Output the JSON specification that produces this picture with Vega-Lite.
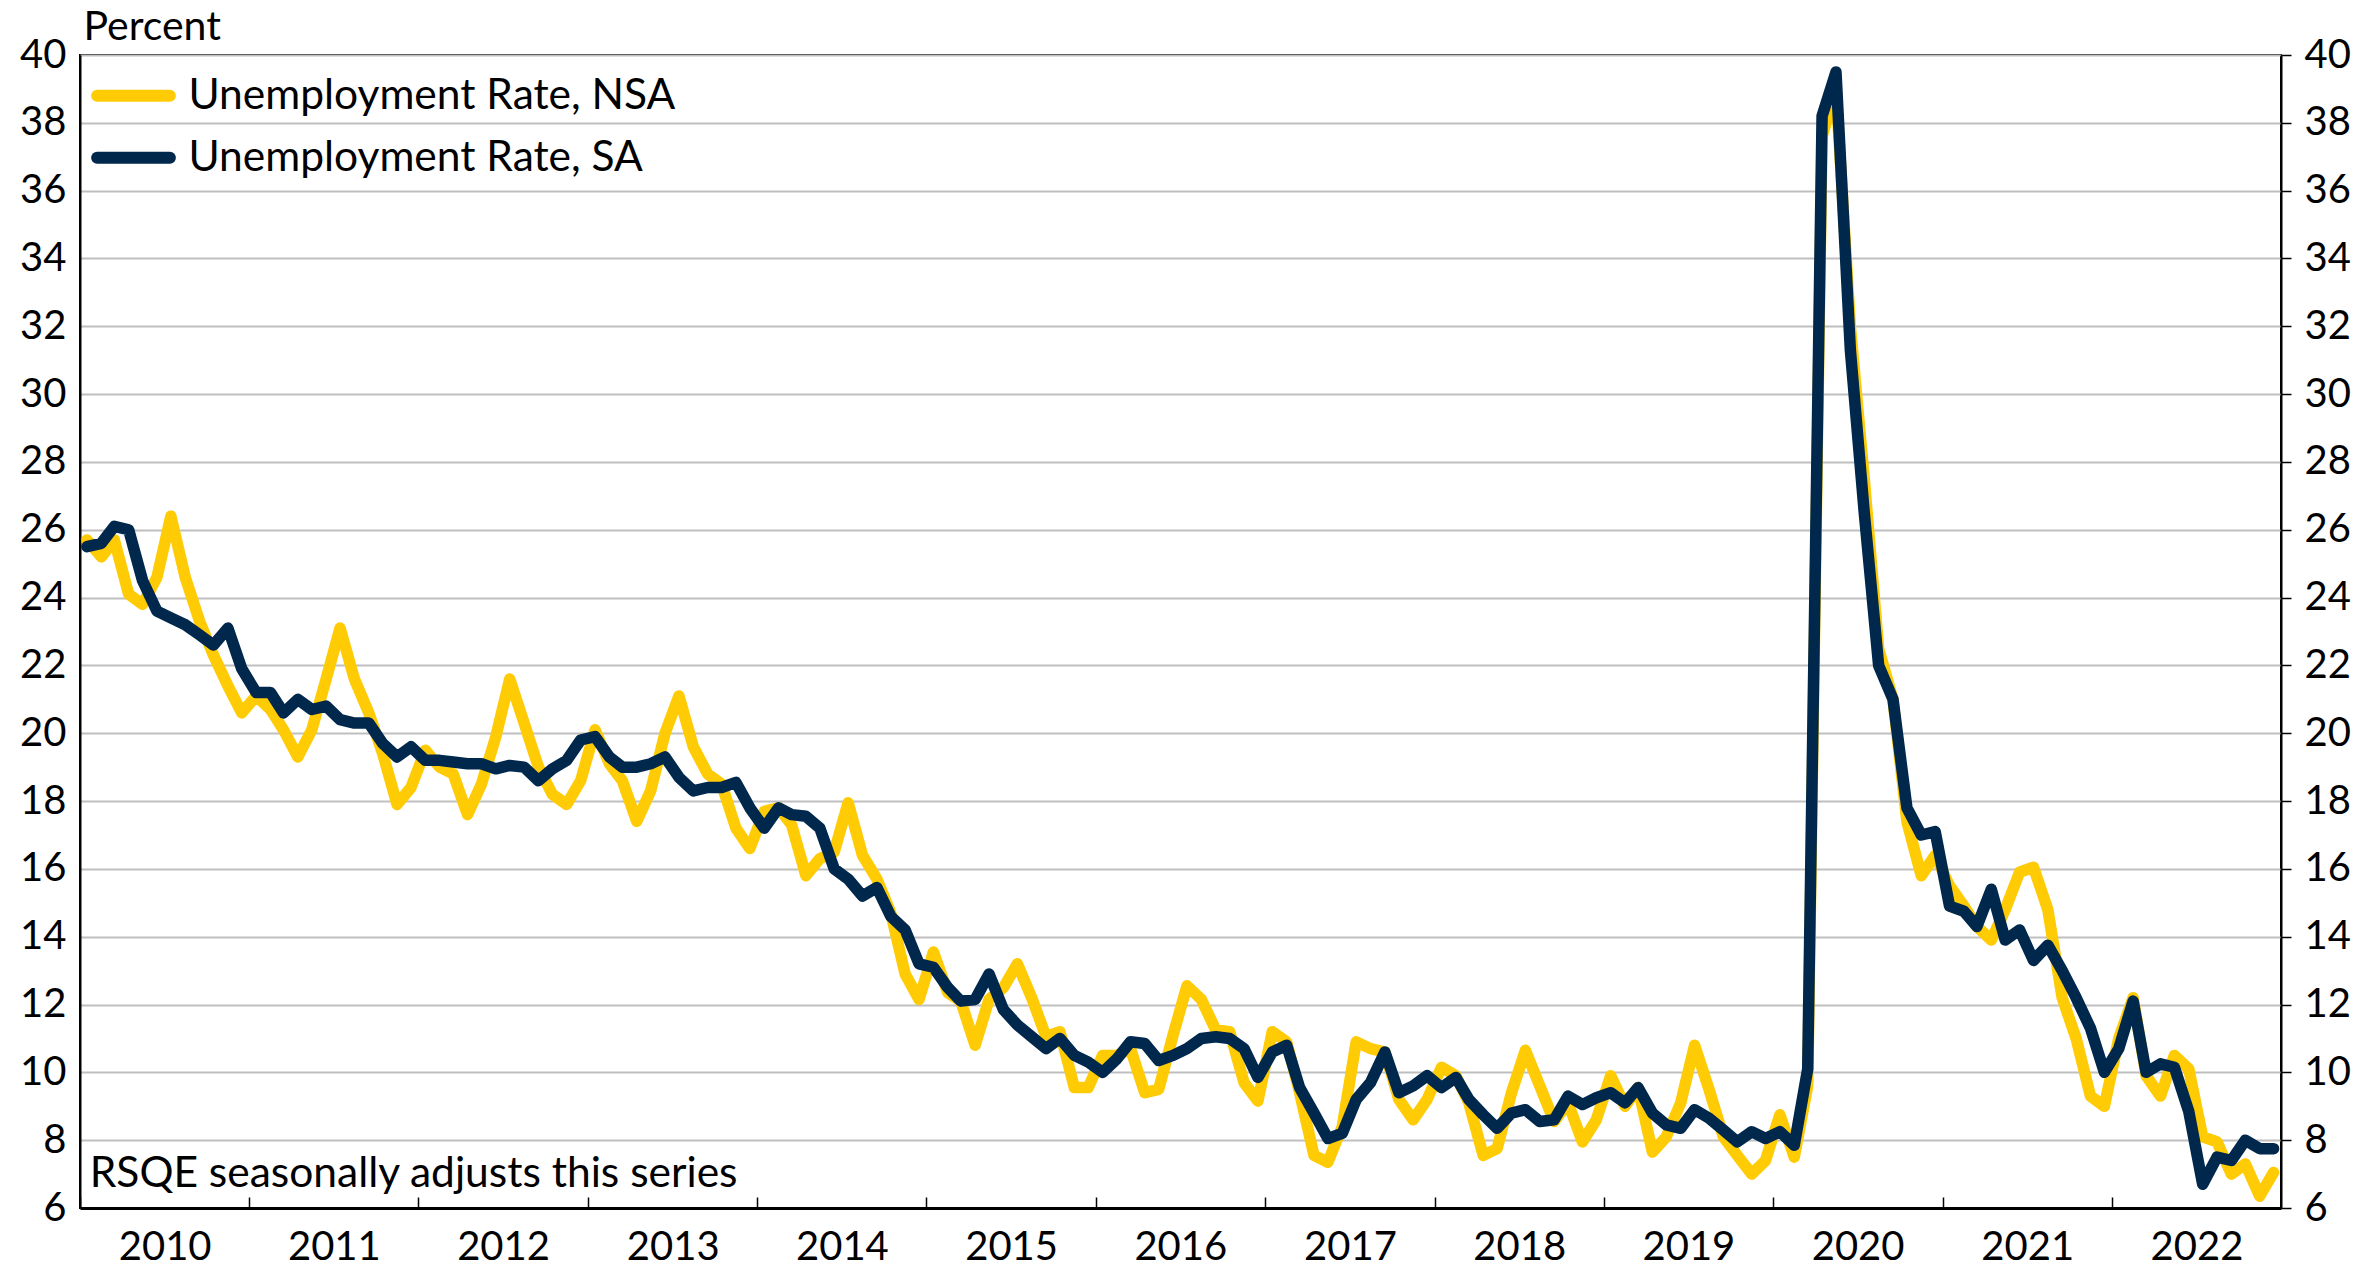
{
  "$schema": "https://vega.github.io/schema/vega-lite/v6.json",
  "width": 2201,
  "height": 1153,
  "autosize": {"type": "none"},
  "padding": {"left": 80, "top": 55, "right": 84, "bottom": 63},
  "background": "white",
  "config": {
    "font": "Lato",
    "view": {"stroke": "black", "strokeWidth": 2},
    "axis": {"labelFont": "Lato", "labelFontSize": 40, "labelColor": "black", "titleFont": "Lato"},
    "legend": {"labelFont": "Lato"}
  },
  "data": {"values": [
    {"d":"2010-01-16","n":25.7,"s":25.5},{"d":"2010-02-16","n":25.2,"s":25.6},{"d":"2010-03-16","n":25.7,"s":26.1},{"d":"2010-04-16","n":24.1,"s":26.0},{"d":"2010-05-16","n":23.8,"s":24.5},{"d":"2010-06-16","n":24.6,"s":23.6},{"d":"2010-07-16","n":26.4,"s":23.4},{"d":"2010-08-16","n":24.6,"s":23.2},{"d":"2010-09-16","n":23.3,"s":22.9},{"d":"2010-10-16","n":22.3,"s":22.6},{"d":"2010-11-16","n":21.4,"s":23.1},{"d":"2010-12-16","n":20.6,"s":21.9},
    {"d":"2011-01-16","n":21.1,"s":21.2},{"d":"2011-02-16","n":20.7,"s":21.2},{"d":"2011-03-16","n":20.1,"s":20.6},{"d":"2011-04-16","n":19.3,"s":21.0},{"d":"2011-05-16","n":20.1,"s":20.7},{"d":"2011-06-16","n":21.6,"s":20.8},{"d":"2011-07-16","n":23.1,"s":20.4},{"d":"2011-08-16","n":21.6,"s":20.3},{"d":"2011-09-16","n":20.6,"s":20.3},{"d":"2011-10-16","n":19.4,"s":19.7},{"d":"2011-11-16","n":17.9,"s":19.3},{"d":"2011-12-16","n":18.4,"s":19.6},
    {"d":"2012-01-16","n":19.5,"s":19.2},{"d":"2012-02-16","n":19.0,"s":19.2},{"d":"2012-03-16","n":18.8,"s":19.15},{"d":"2012-04-16","n":17.6,"s":19.1},{"d":"2012-05-16","n":18.5,"s":19.1},{"d":"2012-06-16","n":19.9,"s":18.95},{"d":"2012-07-16","n":21.6,"s":19.05},{"d":"2012-08-16","n":20.3,"s":19.0},{"d":"2012-09-16","n":19.0,"s":18.6},{"d":"2012-10-16","n":18.2,"s":18.95},{"d":"2012-11-16","n":17.9,"s":19.2},{"d":"2012-12-16","n":18.6,"s":19.8},
    {"d":"2013-01-16","n":20.1,"s":19.9},{"d":"2013-02-16","n":19.1,"s":19.3},{"d":"2013-03-16","n":18.6,"s":19.0},{"d":"2013-04-16","n":17.4,"s":19.0},{"d":"2013-05-16","n":18.3,"s":19.1},{"d":"2013-06-16","n":20.0,"s":19.3},{"d":"2013-07-16","n":21.1,"s":18.7},{"d":"2013-08-16","n":19.6,"s":18.3},{"d":"2013-09-16","n":18.8,"s":18.4},{"d":"2013-10-16","n":18.5,"s":18.4},{"d":"2013-11-16","n":17.2,"s":18.55},{"d":"2013-12-16","n":16.6,"s":17.8},
    {"d":"2014-01-16","n":17.7,"s":17.2},{"d":"2014-02-16","n":17.8,"s":17.8},{"d":"2014-03-16","n":17.3,"s":17.6},{"d":"2014-04-16","n":15.8,"s":17.55},{"d":"2014-05-16","n":16.3,"s":17.2},{"d":"2014-06-16","n":16.5,"s":16.0},{"d":"2014-07-16","n":17.95,"s":15.7},{"d":"2014-08-16","n":16.4,"s":15.2},{"d":"2014-09-16","n":15.7,"s":15.45},{"d":"2014-10-16","n":14.7,"s":14.6},{"d":"2014-11-16","n":12.9,"s":14.2},{"d":"2014-12-16","n":12.15,"s":13.2},
    {"d":"2015-01-16","n":13.55,"s":13.1},{"d":"2015-02-16","n":12.35,"s":12.5},{"d":"2015-03-16","n":12.1,"s":12.1},{"d":"2015-04-16","n":10.8,"s":12.15},{"d":"2015-05-16","n":12.15,"s":12.9},{"d":"2015-06-16","n":12.5,"s":11.85},{"d":"2015-07-16","n":13.2,"s":11.4},{"d":"2015-08-16","n":12.2,"s":11.05},{"d":"2015-09-16","n":11.05,"s":10.7},{"d":"2015-10-16","n":11.2,"s":11.0},{"d":"2015-11-16","n":9.55,"s":10.5},{"d":"2015-12-16","n":9.55,"s":10.3},
    {"d":"2016-01-16","n":10.5,"s":10.0},{"d":"2016-02-16","n":10.5,"s":10.4},{"d":"2016-03-16","n":10.7,"s":10.9},{"d":"2016-04-16","n":9.4,"s":10.85},{"d":"2016-05-16","n":9.5,"s":10.35},{"d":"2016-06-16","n":11.1,"s":10.5},{"d":"2016-07-16","n":12.55,"s":10.7},{"d":"2016-08-16","n":12.15,"s":11.0},{"d":"2016-09-16","n":11.25,"s":11.05},{"d":"2016-10-16","n":11.2,"s":11.0},{"d":"2016-11-16","n":9.7,"s":10.7},{"d":"2016-12-16","n":9.15,"s":9.85},
    {"d":"2017-01-16","n":11.2,"s":10.6},{"d":"2017-02-16","n":10.9,"s":10.8},{"d":"2017-03-16","n":9.4,"s":9.55},{"d":"2017-04-16","n":7.55,"s":8.8},{"d":"2017-05-16","n":7.35,"s":8.05},{"d":"2017-06-16","n":8.4,"s":8.2},{"d":"2017-07-16","n":10.9,"s":9.2},{"d":"2017-08-16","n":10.7,"s":9.7},{"d":"2017-09-16","n":10.6,"s":10.6},{"d":"2017-10-16","n":9.2,"s":9.4},{"d":"2017-11-16","n":8.6,"s":9.6},{"d":"2017-12-16","n":9.2,"s":9.9},
    {"d":"2018-01-16","n":10.15,"s":9.55},{"d":"2018-02-16","n":9.9,"s":9.85},{"d":"2018-03-16","n":9.1,"s":9.2},{"d":"2018-04-16","n":7.55,"s":8.75},{"d":"2018-05-16","n":7.75,"s":8.35},{"d":"2018-06-16","n":9.4,"s":8.8},{"d":"2018-07-16","n":10.65,"s":8.9},{"d":"2018-08-16","n":9.6,"s":8.55},{"d":"2018-09-16","n":8.55,"s":8.6},{"d":"2018-10-16","n":9.1,"s":9.3},{"d":"2018-11-16","n":7.95,"s":9.05},{"d":"2018-12-16","n":8.6,"s":9.25},
    {"d":"2019-01-16","n":9.9,"s":9.4},{"d":"2019-02-16","n":9.0,"s":9.1},{"d":"2019-03-16","n":9.55,"s":9.55},{"d":"2019-04-16","n":7.65,"s":8.8},{"d":"2019-05-16","n":8.1,"s":8.45},{"d":"2019-06-16","n":9.1,"s":8.35},{"d":"2019-07-16","n":10.8,"s":8.9},{"d":"2019-08-16","n":9.5,"s":8.65},{"d":"2019-09-16","n":8.1,"s":8.3},{"d":"2019-10-16","n":7.55,"s":7.95},{"d":"2019-11-16","n":7.0,"s":8.25},{"d":"2019-12-16","n":7.4,"s":8.05},
    {"d":"2020-01-16","n":8.75,"s":8.25},{"d":"2020-02-16","n":7.5,"s":7.85},{"d":"2020-03-16","n":9.6,"s":10.1},{"d":"2020-04-16","n":37.6,"s":38.2},{"d":"2020-05-16","n":39.0,"s":39.5},{"d":"2020-06-16","n":32.0,"s":31.3},{"d":"2020-07-16","n":27.5,"s":26.5},{"d":"2020-08-16","n":22.5,"s":22.0},{"d":"2020-09-16","n":21.0,"s":21.0},{"d":"2020-10-16","n":17.4,"s":17.8},{"d":"2020-11-16","n":15.8,"s":17.0},{"d":"2020-12-16","n":16.4,"s":17.1},
    {"d":"2021-01-16","n":15.5,"s":14.9},{"d":"2021-02-16","n":14.9,"s":14.75},{"d":"2021-03-16","n":14.3,"s":14.3},{"d":"2021-04-16","n":13.9,"s":15.4},{"d":"2021-05-16","n":14.8,"s":13.9},{"d":"2021-06-16","n":15.9,"s":14.2},{"d":"2021-07-16","n":16.05,"s":13.3},{"d":"2021-08-16","n":14.8,"s":13.75},{"d":"2021-09-16","n":12.2,"s":13.0},{"d":"2021-10-16","n":11.0,"s":12.2},{"d":"2021-11-16","n":9.3,"s":11.3},{"d":"2021-12-16","n":9.0,"s":10.0},
    {"d":"2022-01-16","n":11.0,"s":10.7},{"d":"2022-02-16","n":12.2,"s":12.1},{"d":"2022-03-16","n":9.9,"s":10.0},{"d":"2022-04-16","n":9.3,"s":10.25},{"d":"2022-05-16","n":10.5,"s":10.15},{"d":"2022-06-16","n":10.1,"s":8.85},{"d":"2022-07-16","n":8.1,"s":6.7},{"d":"2022-08-16","n":7.95,"s":7.5},{"d":"2022-09-16","n":7.0,"s":7.4},{"d":"2022-10-16","n":7.3,"s":8.0},{"d":"2022-11-16","n":6.35,"s":7.75},{"d":"2022-12-16","n":7.05,"s":7.75}
  ]},
  "layer": [
    {
      "mark": {"type": "line", "strokeWidth": 11.5, "strokeCap": "round", "strokeJoin": "round"},
      "encoding": {
        "x": {
          "field": "d", "type": "temporal",
          "scale": {"type": "utc", "domain": [{"year": 2010, "month": 1, "date": 1, "utc": true}, {"year": 2023, "month": 1, "date": 1, "utc": true}]},
          "axis": {
            "title": null,
            "values": [
              {"year": 2010, "month": 1, "date": 1, "utc": true}, {"year": 2011, "month": 1, "date": 1, "utc": true},
              {"year": 2012, "month": 1, "date": 1, "utc": true}, {"year": 2013, "month": 1, "date": 1, "utc": true},
              {"year": 2014, "month": 1, "date": 1, "utc": true}, {"year": 2015, "month": 1, "date": 1, "utc": true},
              {"year": 2016, "month": 1, "date": 1, "utc": true}, {"year": 2017, "month": 1, "date": 1, "utc": true},
              {"year": 2018, "month": 1, "date": 1, "utc": true}, {"year": 2019, "month": 1, "date": 1, "utc": true},
              {"year": 2020, "month": 1, "date": 1, "utc": true}, {"year": 2021, "month": 1, "date": 1, "utc": true},
              {"year": 2022, "month": 1, "date": 1, "utc": true}
            ],
            "format": "%Y",
            "labelOffset": 84.65,
            "labelFlush": false,
            "labelOverlap": false,
            "labelBaseline": "middle",
            "labelPadding": 50,
            "labelFontSize": 40,
            "tickSize": -11,
            "tickColor": "black",
            "tickWidth": 1.5,
            "domainColor": "black",
            "domainWidth": 3,
            "grid": false
          }
        },
        "y": {
          "field": "n", "type": "quantitative",
          "scale": {"domain": [6, 40], "nice": false, "zero": false},
          "axis": {
            "values": [6, 8, 10, 12, 14, 16, 18, 20, 22, 24, 26, 28, 30, 32, 34, 36, 38, 40],
            "grid": true, "gridColor": "#BFBFBF", "gridWidth": 2,
            "ticks": false, "labelPadding": 14, "labelFontSize": 40,
            "domainColor": "black", "domainWidth": 2,
            "title": "Percent", "titleAngle": 0, "titleAlign": "left", "titleBaseline": "alphabetic",
            "titleX": 3, "titleY": -16, "titleFontSize": 41, "titleFontWeight": "normal", "titleColor": "black"
          }
        },
        "color": {
          "datum": "Unemployment Rate, NSA",
          "scale": {"domain": ["Unemployment Rate, NSA", "Unemployment Rate, SA"], "range": ["#FFCB05", "#00274C"]},
          "legend": {
            "orient": "none", "legendX": 15.5, "legendY": 2.75, "title": null,
            "symbolType": "M-1.146,0H1.146", "symbolSize": 4032, "symbolStrokeWidth": 12,
            "labelFontSize": 42.5, "labelColor": "black", "labelOffset": 17, "labelLimit": 1000,
            "rowPadding": 0, "padding": 0,
            "encode": {"symbols": {"update": {"strokeCap": {"value": "round"}}}}
          }
        }
      }
    },
    {
      "mark": {"type": "line", "strokeWidth": 11.5, "strokeCap": "round", "strokeJoin": "round"},
      "encoding": {
        "x": {"field": "d", "type": "temporal"},
        "y": {
          "field": "s", "type": "quantitative",
          "scale": {"domain": [6, 40], "nice": false, "zero": false},
          "axis": {
            "orient": "right",
            "values": [6, 8, 10, 12, 14, 16, 18, 20, 22, 24, 26, 28, 30, 32, 34, 36, 38, 40],
            "grid": false, "ticks": true, "tickSize": 10, "tickColor": "black", "tickWidth": 1.5,
            "labelPadding": 13, "labelFontSize": 40,
            "domainColor": "black", "domainWidth": 2, "title": null
          }
        },
        "color": {"datum": "Unemployment Rate, SA"}
      }
    },
    {
      "data": {"values": [{"note": "RSQE seasonally adjusts this series"}]},
      "mark": {"type": "text", "align": "left", "baseline": "alphabetic", "fontSize": 42.5, "font": "Lato", "fontWeight": "normal", "fill": "black"},
      "encoding": {
        "x": {"datum": {"year": 2010, "month": 1, "date": 22, "utc": true}, "type": "temporal"},
        "y": {"datum": 6.62, "type": "quantitative", "scale": {"domain": [6, 40], "nice": false, "zero": false}, "axis": null},
        "text": {"field": "note"}
      }
    }
  ],
  "resolve": {"scale": {"y": "independent"}, "axis": {"y": "independent"}}
}
